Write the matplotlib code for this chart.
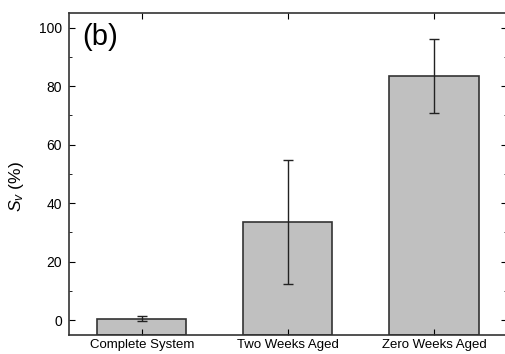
import matplotlib.pyplot as plt
from matplotlib.ticker import MultipleLocator

plt.rcParams['font.family'] = ['Liberation Sans', 'DejaVu Sans']
plt.rcParams['mathtext.fontset'] = 'custom'
plt.rcParams['mathtext.it'] = 'Liberation Sans:italic'
plt.rcParams['mathtext.rm'] = 'Liberation Sans'

# donnees
categories = ["Complete System", "Two Weeks Aged", "Zero Weeks Aged"]
sv = [0.5, 33.5, 83.5]
err = [0.9, 21.2, 12.7]
x = [1, 2, 3]
ymin, ymax = -5, 105

fig = plt.figure(figsize=(5.06, 3.54), dpi=100)
ax = fig.add_axes([0.136, 0.054, 0.866, 0.909])

# les barres partent du bas de l'axe (comme dans Origin)
ax.bar(x, [v - ymin for v in sv], bottom=ymin, width=0.61, color='#c0c0c0',
       edgecolor='#333333', linewidth=1.2)
ax.errorbar(x, sv, yerr=err, fmt='none', ecolor='#222222', elinewidth=1.0,
            capsize=3.5, capthick=1.0)

ax.set_xlim(0.5, 3.5)
ax.set_ylim(ymin, ymax)
ax.set_xticks(x)
ax.set_xticklabels(categories, fontsize=9.5)
ax.yaxis.set_major_locator(MultipleLocator(20))
ax.yaxis.set_minor_locator(MultipleLocator(10))
ax.tick_params(axis='both', which='both', direction='in', top=True, right=True, labelsize=10)
ax.tick_params(axis='both', which='major', length=4)
ax.tick_params(axis='y', which='minor', length=2.5)
ax.tick_params(axis='x', which='minor', bottom=False, top=False)
ax.tick_params(axis='x', pad=3, labelsize=9.5)
ax.tick_params(axis='y', pad=5)
for s in ax.spines.values():
    s.set_linewidth(1.2)
    s.set_color('#333333')

ax.set_ylabel(r"$S_{v}$ (%)", fontsize=12.5)
ax.yaxis.set_label_coords(-0.097, 0.46)
ax.text(0.03, 0.97, "(b)", transform=ax.transAxes, fontsize=21, va='top', ha='left')

fig.savefig("out.png", dpi=100)
